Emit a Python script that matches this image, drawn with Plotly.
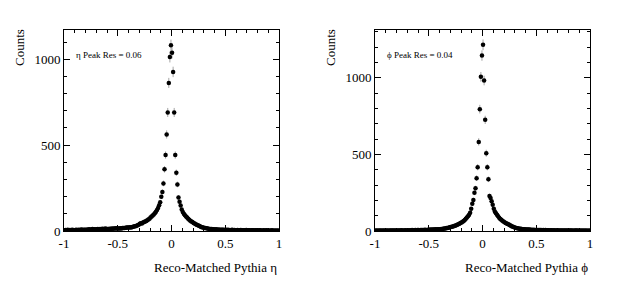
import numpy as np
import plotly.graph_objects as go

# Bin layout: 200 bins of width 0.01 on [-1, 1]
bin_edges = np.linspace(-1.0, 1.0, 201)
bin_centers = 0.5 * (bin_edges[:-1] + bin_edges[1:])

# eta residual counts (left half: -0.995..-0.005, right half: 0.005..0.995)
eta_left = [
    5, 6, 4, 7, 5, 6, 5, 8, 6, 5,
    6, 7, 5, 8, 6, 7, 9, 6, 7, 8,
    8, 7, 9, 10, 8, 9, 11, 9, 10, 9,
    10, 11, 9, 12, 10, 13, 11, 12, 14, 12,
    11, 12, 13, 12, 14, 13, 15, 14, 16, 15,
    14, 15, 16, 15, 17, 18, 17, 19, 20, 21,
    20, 22, 21, 24, 25, 27, 28, 31, 33, 37,
    42, 45, 44, 49, 52, 55, 58, 63, 67, 72,
    78, 84, 90, 96, 104, 112, 122, 134, 150, 168,
    200, 227, 277, 359, 442, 562, 690, 862, 1013, 1081,
]
eta_right = [
    1037, 926, 690, 442, 339, 271, 195, 170, 148, 125,
    110, 100, 92, 84, 78, 72, 66, 60, 56, 52,
    47, 43, 40, 36, 33, 30, 27, 24, 22, 20,
    18, 17, 16, 14, 13, 12, 12, 11, 10, 10,
    9, 10, 8, 9, 8, 7, 8, 7, 8, 6,
    7, 6, 7, 6, 5, 6, 7, 5, 6, 5,
    5, 6, 4, 5, 6, 4, 5, 4, 5, 6,
    4, 5, 4, 3, 5, 4, 4, 3, 5, 4,
    3, 4, 4, 3, 2, 4, 3, 3, 4, 3,
    3, 2, 3, 4, 2, 3, 2, 3, 2, 3,
]

# phi residual counts
phi_left = [
    3, 2, 3, 2, 3, 4, 2, 3, 3, 2,
    3, 3, 2, 4, 3, 3, 4, 3, 3, 4,
    3, 4, 4, 3, 5, 4, 4, 3, 5, 4,
    4, 5, 4, 5, 6, 5, 5, 6, 5, 6,
    6, 5, 7, 6, 7, 6, 8, 7, 7, 8,
    8, 9, 8, 10, 9, 10, 11, 10, 12, 11,
    12, 13, 13, 15, 16, 17, 19, 20, 22, 24,
    26, 28, 30, 32, 35, 38, 41, 44, 48, 52,
    56, 61, 66, 72, 80, 88, 96, 106, 120, 145,
    178, 203, 250, 279, 345, 417, 582, 796, 1007, 1146,
]
phi_right = [
    1216, 983, 726, 508, 417, 338, 229, 215, 195, 172,
    145, 127, 116, 106, 96, 86, 78, 73, 67, 62,
    57, 53, 49, 46, 42, 38, 34, 30, 27, 24,
    22, 20, 18, 16, 15, 14, 13, 12, 11, 11,
    10, 10, 9, 9, 8, 8, 7, 8, 7, 7,
    7, 6, 6, 7, 6, 5, 6, 5, 6, 5,
    5, 5, 4, 5, 5, 4, 5, 4, 4, 5,
    4, 4, 3, 4, 4, 3, 4, 3, 4, 3,
    3, 4, 3, 3, 2, 4, 3, 3, 3, 2,
    3, 2, 3, 2, 3, 2, 3, 2, 2, 3,
]

eta_counts = np.array(eta_left + eta_right, dtype=float)
phi_counts = np.array(phi_left + phi_right, dtype=float)

x_tickvals = [-1, -0.5, 0, 0.5, 1]
x_ticktext = ["-1", "-0.5", "0", "0.5", "1"]
y_tickvals = [0, 500, 1000]
y_ticktext = ["0", "500", "1000"]

panel_titles_x = ["Reco-Matched Pythia η", "Reco-Matched Pythia ϕ"]
panel_labels = ["η Peak Res = 0.06", "ϕ Peak Res = 0.04"]
y_ranges = [[0, 1170], [0, 1313]]

FONT = "Liberation Serif"

fig = go.Figure()

for i, counts in enumerate([eta_counts, phi_counts]):
    xa = "x" if i == 0 else "x2"
    ya = "y" if i == 0 else "y2"
    fig.add_trace(go.Scatter(
        x=bin_centers, y=counts, mode="markers",
        marker=dict(color="black", size=4.5),
        error_y=dict(type="data", array=np.sqrt(counts), color="rgba(0,0,0,0.6)",
                     thickness=0.6, width=0),
        xaxis=xa, yaxis=ya, showlegend=False, hoverinfo="x+y",
    ))

axis_common = dict(
    showgrid=False, zeroline=False, showline=True, linecolor="black",
    linewidth=1, mirror="ticks", ticks="inside", tickcolor="black",
    tickwidth=1, ticklen=6, automargin=False,
    tickfont=dict(family=FONT, size=13, color="black"),
)

x_dom = [[64 / 623, 279 / 623], [375 / 623, 590 / 623]]
y_dom = [60 / 291, 261 / 291]

minor_x = dict(dtick=0.1, tick0=0, ticks="inside", ticklen=3,
               tickcolor="black", tickwidth=1, showgrid=False)
minor_y = dict(dtick=100, tick0=0, ticks="inside", ticklen=3,
               tickcolor="black", tickwidth=1, showgrid=False)

fig.update_layout(
    width=623, height=291, autosize=False,
    margin=dict(l=0, r=0, t=0, b=0, pad=0),
    paper_bgcolor="white", plot_bgcolor="white",
    font=dict(family=FONT, color="black"),
    xaxis=dict(domain=x_dom[0], range=[-1, 1], anchor="y",
               tickvals=x_tickvals, ticktext=x_ticktext, minor=minor_x,
               ticklabelstandoff=0, **axis_common),
    yaxis=dict(domain=y_dom, range=y_ranges[0], anchor="x",
               tickvals=y_tickvals, ticktext=y_ticktext, minor=minor_y,
               ticklabelstandoff=0, **axis_common),
    xaxis2=dict(domain=x_dom[1], range=[-1, 1], anchor="y2",
                tickvals=x_tickvals, ticktext=x_ticktext, minor=minor_x,
                ticklabelstandoff=0, **axis_common),
    yaxis2=dict(domain=y_dom, range=y_ranges[1], anchor="x2",
                tickvals=y_tickvals, ticktext=y_ticktext, minor=minor_y,
                ticklabelstandoff=0, **axis_common),
)

annotations = []
for i in range(2):
    xd = "x domain" if i == 0 else "x2 domain"
    yd = "y domain" if i == 0 else "y2 domain"
    annotations.append(dict(
        text=panel_titles_x[i], xref=xd, yref="paper",
        x=1.0, y=1 - 267 / 291, xanchor="right", yanchor="middle",
        showarrow=False, font=dict(family=FONT, size=13, color="black"),
    ))
    annotations.append(dict(
        text="Counts", xref=xd, yref="paper",
        x=-44 / 215, y=1 - 48 / 291, xanchor="center", yanchor="middle",
        textangle=-90, showarrow=False,
        font=dict(family=FONT, size=13, color="black"),
    ))
    annotations.append(dict(
        text=panel_labels[i], xref=xd, yref=yd,
        x=0.045, y=0.878, xanchor="left", yanchor="middle",
        showarrow=False, font=dict(family=FONT, size=9, color="black"),
    ))
fig.update_layout(annotations=annotations)

fig.write_html("out.html",
               config={"responsive": False, "displayModeBar": False},
               post_script="document.body.style.margin='0';document.body.style.overflow='hidden';")
